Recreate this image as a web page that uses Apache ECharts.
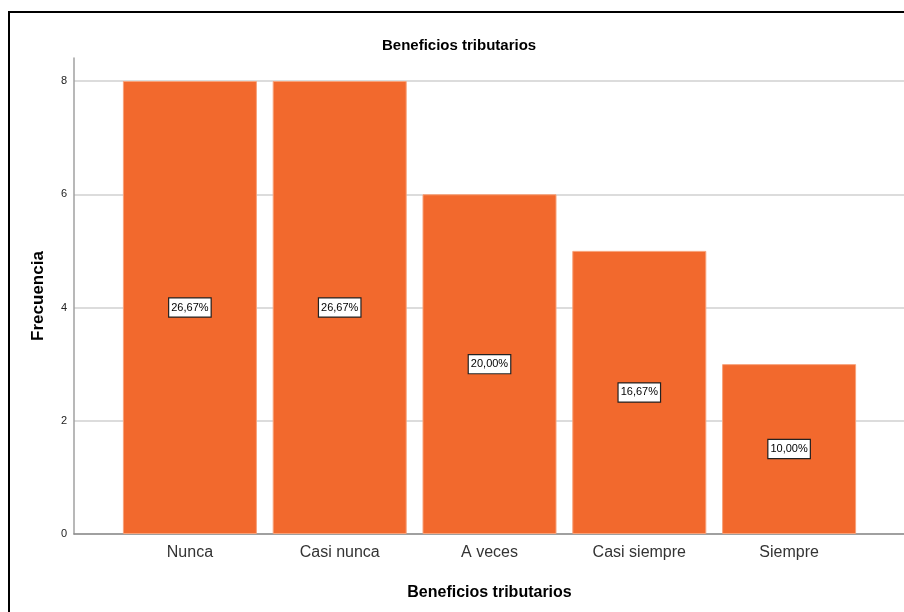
<!DOCTYPE html>
<html>
<head>
<meta charset="utf-8">
<script src="https://cdn.jsdelivr.net/npm/echarts@6/dist/echarts.min.js"></script>
<style>html,body{margin:0;padding:0;background:#fff}#c{width:904px;height:612px}</style>
</head>
<body>
<div id="c"></div>
<script>
const categories = ['Nunca', 'Casi nunca', 'A veces', 'Casi siempre', 'Siempre'];
const frecuencia = [8, 8, 6, 5, 3];
const porcentajes = ['26,67%', '26,67%', '20,00%', '16,67%', '10,00%'];
const yTicks = [0, 2, 4, 6, 8];

const FONT = '"Liberation Sans", Arial, sans-serif';
const chart = echarts.init(document.getElementById('c'), null, {renderer: 'canvas'});
chart.setOption({
  backgroundColor: '#ffffff',
  animation: false,
  title: {
    text: 'Beneficios tributarios',
    left: 377, top: 33,
    textStyle: {fontFamily: FONT, fontSize: 15, fontWeight: 'bold', color: '#000'}
  },
  graphic: [{
    type: 'rect', shape: {x: 9, y: 12, width: 920, height: 620},
    style: {fill: 'none', stroke: '#000', lineWidth: 2}, silent: true, z: 100
  }],
  grid: [
    {left: 74, right: 0, top: 81, bottom: 78},
    {left: 74, right: 0, top: 58, bottom: 78},
    {left: 115, width: 749, top: 81, bottom: 78}
  ],
  xAxis: [
    {gridIndex: 0, type: 'value', min: 0, max: 1,
     axisLine: {show: true, lineStyle: {color: '#8c8c8c', width: 1.5}},
     axisTick: {show: false}, axisLabel: {show: false}, splitLine: {show: false}},
    {gridIndex: 1, type: 'value', min: 0, max: 1, show: false},
    {gridIndex: 2, type: 'category', data: categories,
     axisLine: {show: false}, axisTick: {show: false},
     axisLabel: {fontFamily: FONT, fontSize: 16, color: '#333', margin: 11},
     name: 'Beneficios tributarios', nameLocation: 'middle', nameGap: 51,
     nameTextStyle: {fontFamily: FONT, fontSize: 16, fontWeight: 'bold', color: '#000'}}
  ],
  yAxis: [
    {gridIndex: 0, type: 'value', min: yTicks[0], max: yTicks[yTicks.length - 1], interval: 2,
     axisLine: {show: false}, axisTick: {show: false},
     axisLabel: {fontFamily: FONT, fontSize: 11, color: '#222', margin: 7},
     splitLine: {show: true, lineStyle: {color: '#dcdcdc', width: 2}}},
    {gridIndex: 1, type: 'value', min: 0, max: 8.4,
     axisLine: {show: true, lineStyle: {color: '#a0a0a0', width: 1.5}},
     axisTick: {show: false}, axisLabel: {show: false}, splitLine: {show: false},
     name: 'Frecuencia', nameLocation: 'middle', nameGap: 27, nameRotate: 90,
     nameTextStyle: {fontFamily: FONT, fontSize: 17, fontWeight: 'bold', color: '#000'}},
    {gridIndex: 2, type: 'value', min: 0, max: 8, show: false}
  ],
  series: [{
    type: 'bar', xAxisIndex: 2, yAxisIndex: 2,
    data: frecuencia,
    barWidth: 134,
    itemStyle: {color: '#f2692d', borderColor: '#f7a27a', borderWidth: 1},
    label: {
      show: true, position: 'inside',
      formatter: p => porcentajes[p.dataIndex],
      fontFamily: FONT, fontSize: 11, color: '#000',
      backgroundColor: '#fff', borderColor: '#222', borderWidth: 1.2,
      padding: [4, 2, 3, 2]
    }
  }]
});
</script>
</body>
</html>
